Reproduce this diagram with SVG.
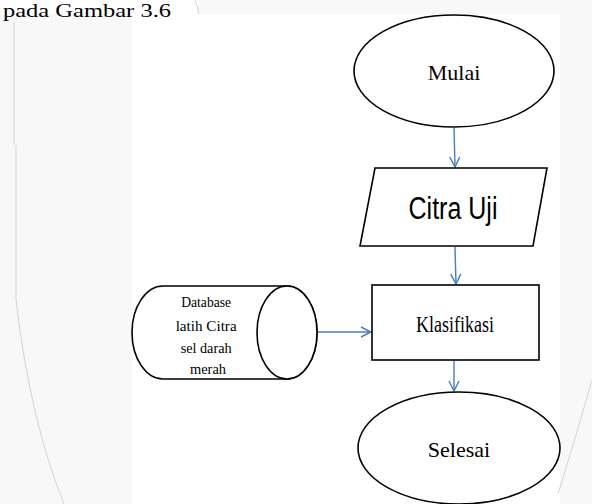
<svg xmlns="http://www.w3.org/2000/svg" width="592" height="504" viewBox="0 0 592 504">
<style>
.shape{fill:#ffffff;stroke:#000000;stroke-width:1.6}
.serif{font-family:"Liberation Serif","Times New Roman",serif;fill:#000000}
.sans{font-family:"Liberation Sans",Arial,sans-serif;fill:#000000}
.conn{stroke:#4a7ebb;stroke-width:1.4;fill:none;marker-end:url(#arr)}
.faint{stroke:#d4d4d4;stroke-width:1;fill:none}
</style>
<defs>
<marker id="arr" viewBox="0 0 12 12" refX="11" refY="6" markerWidth="12" markerHeight="12" markerUnits="userSpaceOnUse" orient="auto">
<path d="M1,1 L11,6 L1,11" fill="none" stroke="#4a7ebb" stroke-width="1.4"/>
</marker>
</defs>
<g id="background">
<rect x="0" y="0" width="592" height="504" fill="#f8f8f8"/>
<rect x="0" y="0" width="198" height="14" fill="#ffffff"/>
<rect x="132" y="14" width="428" height="490" fill="#ffffff"/>
<path class="faint" d="M195,0 Q198,7 199,14"/>
<path class="faint" d="M14,22 L14,145 M16,145 L16,300 Q30,420 64,504"/>
<path class="faint" d="M592,380 Q575,440 558,494"/>
<text class="serif" x="3" y="17" font-size="19" textLength="168" lengthAdjust="spacingAndGlyphs">pada Gambar 3.6</text>
</g>
<g id="connectors">
<line class="conn" x1="454" y1="128" x2="455" y2="167"/>
<line class="conn" x1="455" y1="247" x2="456" y2="284"/>
<line class="conn" x1="454" y1="361" x2="454" y2="391"/>
<line class="conn" x1="318" y1="332" x2="371" y2="332"/>
</g>
<g id="mulai">
<ellipse class="shape" cx="454" cy="71" rx="100" ry="56"/>
<text class="serif" x="454" y="80" font-size="22" text-anchor="middle">Mulai</text>
</g>
<g id="citra-uji">
<polygon class="shape" points="375,168 547,168 533,246 360,246"/>
<text class="sans" x="453" y="219" font-size="31" text-anchor="middle" textLength="89" lengthAdjust="spacingAndGlyphs">Citra Uji</text>
</g>
<g id="klasifikasi">
<rect class="shape" x="372" y="285" width="167" height="75"/>
<text class="serif" x="455" y="332" font-size="23" text-anchor="middle" textLength="78" lengthAdjust="spacingAndGlyphs">Klasifikasi</text>
</g>
<g id="selesai">
<ellipse class="shape" cx="459" cy="448" rx="101" ry="56"/>
<text class="serif" x="459" y="457" font-size="22" text-anchor="middle">Selesai</text>
</g>
<g id="database">
<path class="shape" d="M163,286 L287,286 A30,46.5 0 0 1 287,379 L163,379 A31,46.5 0 0 1 163,286 Z"/>
<ellipse class="shape" cx="287" cy="332.5" rx="30" ry="46.5"/>
<text class="serif" font-size="15" text-anchor="middle">
<tspan x="208" y="307" textLength="50" lengthAdjust="spacingAndGlyphs">Database</tspan>
<tspan x="208" y="331" textLength="61" lengthAdjust="spacingAndGlyphs">latih  Citra</tspan>
<tspan x="208" y="353" textLength="51" lengthAdjust="spacingAndGlyphs">sel darah</tspan>
<tspan x="208" y="374" textLength="36" lengthAdjust="spacingAndGlyphs">merah</tspan>
</text>
</g>
</svg>
